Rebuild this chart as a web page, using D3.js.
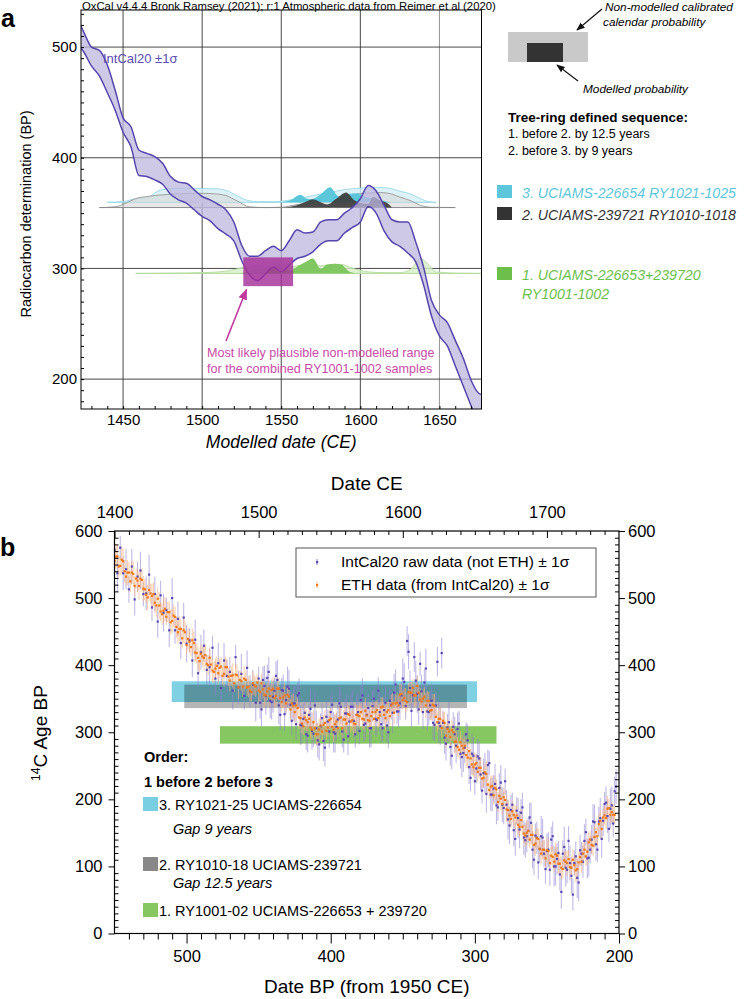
<!DOCTYPE html>
<html><head><meta charset="utf-8">
<script src="https://cdn.jsdelivr.net/npm/d3@7"></script>
<style>
body{margin:0;background:#fff}
text{font-family:"Liberation Sans",Arial,Helvetica,sans-serif}
</style></head><body>
<svg id="c" width="753" height="999"></svg>
<script>
// ================= DATA =================
// Panel a : IntCal20 band (CE year, upper BP, lower BP)
const intcalYears = [1423,1425,1430,1435,1440,1445,1450,1455,1460,1465,1470,1475,1480,1485,1490,1495,1500,1505,1510,1515,1520,1525,1530,1535,1540,1545,1550,1555,1560,1565,1570,1575,1580,1585,1590,1595,1600,1605,1610,1615,1620,1625,1630,1635,1640,1645,1650,1655,1660,1665,1670,1675,1677];
const intcalUpper = [520,514,500,497,484,461,436,428,407,404,401,395,383,378,377,371,365,362,358,353,342,321,311,311,316,320,316,325,335,332,333,342,344,344,350,355,363,375,370,357,344,342,342,324,301,271,258,251,235,219,199,187,186];
const intcalLower = [500,496,483,474,459,443,423,410,384,383,380,376,367,362,359,353,347,343,336,331,325,307,294,289,295,301,297,303,309,311,315,322,325,325,332,337,342,356,350,334,324,320,314,306,285,257,239,230,212,194,176,158,150];

// Panel a : probability distributions (CE year, relative probability)
const cyanBaseBP = 359.7, grayBaseBP = 355, greenBaseBP = 295.5;
const cyanNMYears = [1440,1450,1458,1465,1472,1480,1490,1500,1510,1515,1522,1528,1535,1545,1552,1560,1570,1580,1590,1600,1610,1618,1625,1632,1638,1643,1648];
const cyanNMDens  = [0,0.05,0.25,0.3,0.75,0.92,0.95,0.92,0.9,0.8,0.45,0.15,0.05,0.05,0.1,0.25,0.45,0.65,0.85,0.95,1.0,0.95,0.75,0.55,0.25,0.05,0];
const cyanMYears = [1549,1556,1562,1566,1569,1575,1581,1585,1587,1592,1598,1603,1606,1612,1619];
const cyanMDens  = [0,0.15,0.5,0.25,0.2,0.55,1.0,0.5,0.35,0.55,0.6,0.35,0.3,0.15,0];
const grayNMYears = [1435,1445,1452,1458,1466,1475,1485,1500,1510,1515,1522,1530,1540,1550,1555,1565,1575,1585,1595,1602,1612,1618,1625,1632,1638,1645,1660];
const grayNMDens  = [0,0.05,0.3,0.6,0.75,0.85,0.92,0.95,0.9,0.8,0.45,0.05,0,0.02,0.1,0.3,0.5,0.7,0.85,0.95,1.0,0.95,0.7,0.45,0.15,0.02,0];
const darkMYears = [1553,1560,1566,1570,1576,1579,1585,1591,1596,1600,1605,1608,1613,1617,1620];
const darkMDens  = [0,0.15,0.4,0.55,0.3,0.2,0.6,1.0,0.5,0.3,0.25,0.7,0.45,0.3,0];
const greenNMYears = [1458,1480,1500,1515,1522,1528,1535,1541,1549,1555,1562,1569,1575,1582,1588,1595,1605,1615,1625,1632,1638,1643,1648,1660,1677];
const greenNMDens  = [0,0.02,0.05,0.15,0.3,0.45,0.5,0.5,0.65,0.45,0.55,0.75,0.5,0.6,0.6,0.35,0.1,0.05,0.05,0.3,1.0,0.6,0.1,0.02,0];
const greenMYears = [1524,1530,1535,1541,1546,1549,1553,1556,1560,1566,1570,1575,1579,1584,1588,1592,1597];
const greenMDens  = [0,0.15,0.3,0.3,0.45,0.65,0.3,0.2,0.45,0.8,1.0,0.3,0.6,0.65,0.6,0.2,0];

// Panel a : most likely non-modelled range
const rangeYears = [1526,1557.5];
const rangeBP = [284,310];

// Panel a tick labels
const aYearTicks = [1450,1500,1550,1600,1650];
const aBPTicks = [200,300,400,500];

// Panel b : data [Date BP, 14C age, 1 sigma]
const intcalRaw = [[550,572,22],[548,537,28],[546,575,18],[544,537,25],[542,543,30],[540,513,20],[538,547,26],[536,498,24],[534,532,22],[532,541,28],
[530,506,18],[528,507,25],[526,535,30],[524,486,20],[522,506,26],[520,465,24],[518,504,22],[516,478,28],[514,482,18],[512,452,25],
[510,500,30],[508,452,20],[506,469,26],[504,433,24],[502,471,22],[500,432,28],[498,437,18],[496,407,25],[494,438,30],[492,388,20],
[490,419,26],[488,429,24],[486,393,22],[484,397,28],[482,426,18],[480,380,25],[478,403,30],[476,366,20],[474,407,26],[472,384,24],
[470,390,22],[468,362,28],[466,412,18],[464,367,25],[462,387,30],[460,354,20],[458,396,26],[456,361,24],[454,371,22],[452,344,28],
[450,380,18],[448,334,25],[446,369,30],[444,381,20],[442,347,26],[440,353,24],[438,384,22],[436,340,28],[434,363,18],[432,327,25],
[430,368,30],[428,341,20],[426,343,26],[424,312,24],[422,358,22],[420,310,28],[418,329,18],[416,295,25],[414,335,30],[412,298,20],
[410,306,26],[408,282,24],[406,321,22],[404,277,28],[402,316,18],[400,330,25],[398,300,30],[396,308,20],[394,343,26],[392,301,24],
[390,328,22],[388,294,28],[386,338,18],[384,317,25],[382,326,30],[380,302,20],[378,355,26],[376,313,24],[374,336,22],[372,306,28],
[370,350,18],[368,318,25],[366,330,30],[364,306,20],[362,344,26],[360,300,24],[358,341,22],[356,359,28],[354,331,18],[352,343,25],
[350,380,30],[348,339,20],[346,420,26],[344,332,24],[342,412,22],[340,357,28],[338,402,18],[336,330,25],[334,395,30],[332,330,20],
[330,347,26],[328,311,24],[326,405,22],[324,309,28],[322,314,18],[320,283,25],[318,315,30],[316,265,20],[314,297,26],[312,305,24],
[310,268,22],[308,269,28],[306,297,18],[304,248,25],[302,268,30],[300,227,20],[298,264,26],[296,237,24],[294,239,22],[292,208,28],
[290,254,18],[288,207,25],[286,223,30],[284,188,20],[282,225,26],[280,187,24],[278,192,22],[276,161,28],[274,192,18],[272,141,25],
[270,172,30],[268,180,20],[266,143,26],[264,145,24],[262,173,22],[260,125,28],[258,146,18],[256,106,25],[254,145,30],[252,119,20],
[250,123,26],[248,95,24],[246,145,22],[244,100,28],[242,120,18],[240,62,25],[238,129,30],[236,95,20],[234,105,26],[232,58,24],
[230,115,22],[228,76,28],[226,119,18],[224,138,25],[222,112,30],[220,125,20],[218,167,26],[216,133,24],[214,167,22],[212,141,28],
[210,193,18],[208,175,25],[206,186,30],[204,164,20],[202,219,26],
[449,344,24],[447,378,20],[445,354,28],[443,390,22],[441,345,26],[439,362,19],[437,378,30],[435,326,23],[433,362,24],[431,348,20],
[429,365,28],[427,317,22],[425,343,26],[423,355,19],[421,311,30],[419,320,23],[417,297,24],[415,326,20],[413,302,28],[411,340,22],
[409,288,26],[407,309,19],[405,287,30],[403,323,23],[401,301,24],[399,341,20],[397,298,28],[395,319,22],[393,338,26],[391,289,19],
[389,328,30],[387,316,23],[385,338,24],[383,297,20],[381,330,28],[379,348,22],[377,311,26],[375,326,19],[373,306,30],[371,339,23],
[369,320,24],[367,362,20],[365,312,28],[363,333,22],[361,310,26],[359,347,19],[357,329,30],[355,371,23],[353,331,24],[351,355,20],
[349,375,28],[347,436,22],[345,366,26],[343,355,19],[341,377,30],[339,334,23],[337,361,24],[335,374,20],[333,331,28],[331,340,22],
[329,314,26],[327,340,19],[325,314,30],[323,418,23],[321,292,24],[319,307,20],[317,278,28],[315,308,22],[313,280,26],[311,313,19],
[309,263,30],[307,277,23],[305,288,24],[303,232,20],[301,265,28],[299,246,22],[297,261,26],[295,213,19],[293,239,30],[291,251,23],
[289,207,24],[287,216,20],[285,191,28],[283,217,22],[281,192,26],[279,227,19],[277,170,30],[275,184,23],[273,154,24],[271,183,20],
[269,155,28],[267,188,22],[265,139,26],[263,153,19],[261,165,30],[259,110,23],[257,143,24],[255,126,20],[253,143,28],[251,96,22],
[249,125,26],[247,140,19],[245,100,30],[243,111,23],[241,88,24],[239,119,20],[237,98,28],[235,138,22],[233,86,26],[231,105,19],
[229,83,30],[227,124,23],[225,107,24],[223,151,20],[221,113,28],[219,140,22],[217,166,26],[215,125,19],[213,172,30],[211,168,23],
[209,195,24],[207,156,20],[205,191,28],[203,212,22]];

const ethData = [[549,562,18],[547,547,16],[545,557,20],[543,540,17],[541,538,19],[539,525,16],[537,536,18],[535,529,15],[533,518,20],[531,527,17],
[529,513,16],[527,501,19],[525,507,15],[523,506,18],[521,489,17],[519,489,20],[517,476,16],[515,484,18],[513,479,15],[511,464,19],
[509,474,17],[507,457,16],[505,454,18],[503,440,15],[501,449,17],[499,439,16],[497,427,14],[495,433,17],[493,418,15],[491,406,16],
[489,413,14],[487,415,17],[485,400,15],[483,401,13],[481,390,16],[479,399,14],[477,396,15],[475,384,13],[473,397,16],[471,383,14],
[469,384,15],[467,373,13],[465,385,16],[463,378,14],[461,368,15],[459,378,13],[457,368,16],[455,360,14],[453,370,15],[451,374,13],
[449,360,16],[447,364,14],[445,355,15],[443,365,13],[441,363,16],[439,351,14],[437,365,15],[435,351,13],[433,352,16],[431,343,14],
[429,353,15],[427,343,13],[425,330,16],[423,336,14],[421,321,15],[419,309,13],[417,318,16],[415,320,14],[413,304,15],[411,306,13],
[409,297,16],[407,310,14],[405,311,15],[403,302,13],[401,318,16],[399,308,14],[397,312,15],[395,306,13],[393,322,16],[391,319,14],
[389,313,15],[387,326,13],[385,318,16],[383,312,14],[381,325,15],[379,330,13],[377,319,16],[375,325,14],[373,317,15],[371,330,13],
[369,330,16],[367,321,14],[365,337,15],[363,326,13],[361,330,16],[359,324,14],[357,343,15],[355,343,13],[353,340,16],[351,357,14],
[349,351,15],[347,345,13],[345,359,16],[343,366,14],[341,355,15],[339,359,13],[337,346,16],[335,353,14],[333,347,15],[331,332,13],
[329,341,16],[327,323,14],[325,320,15],[323,306,13],[321,314,16],[319,305,14],[317,293,15],[315,300,13],[313,286,16],[311,274,14],
[309,280,15],[307,280,13],[305,262,16],[303,261,14],[301,248,15],[299,254,13],[297,247,16],[295,231,14],[293,240,15],[291,222,13],
[289,219,16],[287,206,14],[285,215,15],[283,205,13],[281,193,16],[279,199,14],[277,184,15],[275,171,13],[273,177,16],[271,176,14],
[269,159,15],[267,159,13],[265,146,16],[263,153,14],[261,147,15],[259,132,13],[257,142,16],[255,126,14],[253,125,15],[251,112,13],
[249,123,16],[247,116,14],[245,107,15],[243,116,13],[241,104,16],[239,96,14],[237,107,15],[235,111,13],[233,98,16],[231,102,14],
[229,96,15],[227,114,13],[225,119,16],[223,115,14],[221,136,15],[219,132,13],[217,144,16],[215,145,14],[213,168,15],[211,173,13],
[209,172,16],[207,187,14],[205,181,15],[203,177,13],
[550,555,15],[548,562,17],[546,548,14],[544,555,19],[542,532,13],[540,538,16],[538,538,18],[536,518,15],[534,526,17],[532,529,14],
[530,514,19],[528,505,13],[526,512,16],[524,503,18],[522,493,15],[520,499,17],[518,480,14],[516,481,19],[514,472,13],[512,479,16],
[510,466,18],[508,472,15],[506,449,17],[504,454,14],[502,452,19],[500,430,13],[498,435,16],[496,437,18],[494,419,15],[492,411,17],
[490,417,14],[488,411,19],[486,402,13],[484,411,16],[482,392,18],[480,395,15],[478,388,17],[476,398,14],[474,387,19],[472,397,13],
[470,377,16],[468,385,18],[466,386,15],[464,367,17],[462,376,14],[460,380,19],[458,367,13],[456,362,16],[454,373,18],[452,368,15],
[450,362,17],[448,373,14],[446,356,19],[444,361,13],[442,354,16],[440,365,18],[438,354,15],[436,365,17],[434,345,14],[432,355,19],
[430,356,13],[428,334,16],[426,339,18],[424,340,15],[422,322,17],[420,313,14],[418,322,19],[416,315,13],[414,307,16],[412,315,18],
[410,297,15],[408,304,17],[406,301,14],[404,314,19],[402,307,13],[400,320,16],[398,304,18],[396,316,15],[394,321,17],[392,306,14],
[390,319,19],[388,327,13],[386,316,16],[384,313,18],[382,326,15],[380,324,17],[378,320,14],[376,332,19],[374,318,13],[372,324,16],
[370,320,18],[368,333,15],[366,325,17],[364,338,14],[362,321,19],[360,333,13],[358,340,16],[356,329,18],[354,344,15],[352,356,17],
[350,348,14],[348,347,19],[346,360,13],[344,359,16],[342,355,18],[340,369,15],[338,349,17],[336,350,14],[334,340,19],[332,347,13],
[330,333,16],[328,339,18],[326,315,15],[324,320,17],[322,317,14],[320,295,19],[318,301,13],[316,303,16],[314,286,18],[312,278,15],
[310,285,17],[308,276,14],[306,266,19],[304,272,13],[302,252,16],[300,252,18],[298,241,15],[296,247,17],[294,232,14],[292,238,19],
[290,214,13],[288,220,16],[286,217,18],[284,196,15],[282,201,17],[280,203,14],[278,185,19],[276,176,13],[274,182,16],[272,173,18],
[270,162,15],[268,169,17],[266,149,14],[264,150,19],[262,140,13],[260,147,16],[258,134,18],[256,141,15],[254,119,17],[252,125,14],
[250,124,19],[248,105,13],[246,114,16],[244,118,18],[242,104,15],[240,98,17],[238,109,14],[236,105,19],[234,99,13],[232,110,16],
[230,94,18],[228,106,15],[226,107,17],[224,125,14],[222,122,19],[220,140,13],[218,131,16],[216,151,18],[214,163,15],[212,156,17],
[210,176,14],[208,186,19],[206,177,13],[204,177,16]];

// Panel b : sample bars  [BP start, BP end] and [14C low, 14C high]
const sampleBP = [[510.3,298.5],[501.6,305.5],[476.8,285]];
const sampleC14 = [[345,376],[336,371],[283,309]];

// Panel b tick labels
const bBPTicks = [500,400,300,200];
const bCETicks = [1400,1500,1600,1700];
const bAgeTicks = [0,100,200,300,400,500,600];

// ================= DRAW =================
const svg = d3.select("#c");
const defs = svg.append("defs");
function marker(id, color){
  defs.append("marker").attr("id",id).attr("viewBox","0 0 10 10").attr("refX",9).attr("refY",5)
    .attr("markerWidth",7).attr("markerHeight",7).attr("orient","auto")
    .append("path").attr("d","M0,1L10,5L0,9z").attr("fill",color);
}
marker("ahK","#111"); marker("ahM","#c2399e");

function styleAxis(g, fs){
  g.select(".domain").remove();
  g.selectAll("line").attr("stroke","#000").attr("stroke-width",1);
  g.selectAll("text").attr("font-size",fs).attr("fill","#000").attr("font-family",'"Liberation Sans",Arial,sans-serif');
}

// ---------- Panel a ----------
const A = {l:81, r:481.5, t:10, b:409};
const xA = d3.scaleLinear().domain([1423.4,1676.6]).range([A.l,A.r]);
const yA = d3.scaleLinear().domain([173,533.5]).range([A.b,A.t]);
const hA = d3.scaleLinear().domain([0,1]).range([0,15]);
defs.append("clipPath").attr("id","clipA").append("rect").attr("x",A.l).attr("y",A.t).attr("width",A.r-A.l).attr("height",A.b-A.t);

svg.append("text").attr("x",A.l+1).attr("y",9.6).attr("font-size",11.3).text("OxCal v4.4.4 Bronk Ramsey (2021); r:1 Atmospheric data from Reimer et al (2020)");
svg.append("text").attr("x",1).attr("y",27).attr("font-size",25).attr("font-weight","bold").text("a");

const gA = svg.append("g").attr("clip-path","url(#clipA)");
gA.selectAll("line.gx").data(aYearTicks).join("line")
  .attr("x1",d=>xA(d)).attr("x2",d=>xA(d)).attr("y1",A.t).attr("y2",A.b)
  .attr("stroke",d=>d===1650?"#888":"#333").attr("stroke-width",0.9);
gA.selectAll("line.gy").data(aBPTicks).join("line")
  .attr("y1",d=>yA(d)).attr("y2",d=>yA(d)).attr("x1",A.l).attr("x2",A.r)
  .attr("stroke","#333").attr("stroke-width",0.9);

function dist(years, dens, base, fill, fillOp, stroke, baseline){
  const pts = years.map((y,i)=>[y,dens[i]]);
  const area = d3.area().x(d=>xA(d[0])).y0(yA(base)).y1(d=>yA(base)-hA(d[1])).curve(d3.curveMonotoneX);
  gA.append("path").datum(pts).attr("d",area).attr("fill",fill).attr("fill-opacity",fillOp);
  if(stroke){
    const line = d3.line().x(d=>xA(d[0])).y(d=>yA(base)-hA(d[1])).curve(d3.curveMonotoneX);
    gA.append("path").datum(pts).attr("d",line).attr("fill","none").attr("stroke",stroke).attr("stroke-width",0.9);
  }
  if(baseline){
    gA.append("line").attr("x1",xA(years[0])).attr("x2",xA(years[years.length-1]))
      .attr("y1",yA(base)).attr("y2",yA(base)).attr("stroke",baseline).attr("stroke-width",1);
  }
}
dist(cyanNMYears,cyanNMDens,cyanBaseBP,"#d4eff5",0.8,"#98d9e6","#98d9e6");
dist(grayNMYears,grayNMDens,grayBaseBP,"#d5d5d5",0.6,"#999","#888");
dist(greenNMYears,greenNMDens,greenBaseBP,"#d6edc8",0.8,"#b2dc9c","#b2dc9c");
dist(cyanMYears,cyanMDens,cyanBaseBP,"#5cc6da",1,null,null);
dist(darkMYears,darkMDens,grayBaseBP,"#3d3d3d",0.92,null,null);
dist(greenMYears,greenMDens,greenBaseBP,"#80c762",1,null,null);

// IntCal band
const band = intcalYears.map((y,i)=>[y,intcalUpper[i],intcalLower[i]]);
gA.append("path").datum(band)
  .attr("d",d3.area().x(d=>xA(d[0])).y0(d=>yA(d[2])).y1(d=>yA(d[1])).curve(d3.curveMonotoneX))
  .attr("fill","#bfb7e0").attr("fill-opacity",0.75);
[1,2].forEach(k=>{
  gA.append("path").datum(band)
    .attr("d",d3.line().x(d=>xA(d[0])).y(d=>yA(d[k])).curve(d3.curveMonotoneX))
    .attr("fill","none").attr("stroke","#5546ad").attr("stroke-width",1.5);
});
// Magenta range
gA.append("rect").attr("x",xA(rangeYears[0])).attr("y",yA(rangeBP[1]))
  .attr("width",xA(rangeYears[1])-xA(rangeYears[0])).attr("height",yA(rangeBP[0])-yA(rangeBP[1]))
  .attr("fill","#a52f98").attr("fill-opacity",0.82);

svg.append("text").attr("x",103).attr("y",63).attr("font-size",13).attr("fill","#5a4cb0").text("IntCal20 ±1σ");

// frame
svg.append("rect").attr("x",A.l).attr("y",A.t).attr("width",A.r-A.l).attr("height",A.b-A.t)
  .attr("fill","none").attr("stroke","#000").attr("stroke-width",1);
// axes a
const minorBP = d3.range(180,531,10);
styleAxis(svg.append("g").attr("transform",`translate(${A.l},0)`).call(d3.axisRight(yA).tickValues(minorBP).tickSize(3).tickFormat("")),12);
styleAxis(svg.append("g").attr("transform",`translate(${A.l},0)`).call(d3.axisLeft(yA).tickValues(aBPTicks).tickSize(0).tickPadding(4)),15);
const minorYr = d3.range(1430,1671,10);
styleAxis(svg.append("g").attr("transform",`translate(0,${A.b})`).call(d3.axisTop(xA).tickValues(minorYr).tickSize(3).tickFormat("")),12);
styleAxis(svg.append("g").attr("transform",`translate(0,${A.b})`).call(d3.axisBottom(xA).tickValues(aYearTicks).tickSize(0).tickPadding(5).tickFormat(d3.format("d"))),15);

svg.append("text").attr("transform","translate(31,214) rotate(-90)").attr("text-anchor","middle").attr("font-size",14.5).text("Radiocarbon determination (BP)");
svg.append("text").attr("x",(A.l+A.r)/2).attr("y",448).attr("text-anchor","middle").attr("font-size",17.5).attr("font-style","italic").text("Modelled date (CE)");

// magenta annotation
svg.append("line").attr("x1",226).attr("y1",341).attr("x2",xA(1528)).attr("y2",yA(281))
  .attr("stroke","#c2399e").attr("stroke-width",1.6).attr("marker-end","url(#ahM)");
svg.append("text").attr("x",207).attr("y",357).attr("font-size",12.6).attr("fill","#c84aa8").text("Most likely plausible non-modelled range");
svg.append("text").attr("x",207).attr("y",373).attr("font-size",12.6).attr("fill","#c84aa8").text("for the combined RY1001-1002 samples");

// right legend a
svg.append("rect").attr("x",508).attr("y",32).attr("width",80).attr("height",30).attr("fill","#c9c9c9");
svg.append("rect").attr("x",527).attr("y",43).attr("width",36).attr("height",19).attr("fill","#333");
svg.append("text").attr("x",605).attr("y",11).attr("font-size",11.8).attr("font-style","italic").text("Non-modelled calibrated");
svg.append("text").attr("x",603).attr("y",26).attr("font-size",11.8).attr("font-style","italic").text("calendar probability");
svg.append("line").attr("x1",602).attr("y1",9).attr("x2",577).attr("y2",30).attr("stroke","#111").attr("stroke-width",1.2).attr("marker-end","url(#ahK)");
svg.append("text").attr("x",583).attr("y",93).attr("font-size",11.8).attr("font-style","italic").text("Modelled probability");
svg.append("line").attr("x1",578).attr("y1",81).attr("x2",557).attr("y2",65).attr("stroke","#111").attr("stroke-width",1.2).attr("marker-end","url(#ahK)");
svg.append("text").attr("x",508).attr("y",122).attr("font-size",13.5).attr("font-weight","bold").text("Tree-ring defined sequence:");
svg.append("text").attr("x",508).attr("y",138).attr("font-size",12.5).text("1. before 2. by 12.5 years");
svg.append("text").attr("x",508).attr("y",155).attr("font-size",12.5).text("2. before 3. by 9 years");
const legA = [
  {c:"#5cc6da", t:"#5cc6da", y:185, lines:["3. UCIAMS-226654 RY1021-1025"]},
  {c:"#333333", t:"#333333", y:207, lines:["2. UCIAMS-239721 RY1010-1018"]},
  {c:"#6cbf4a", t:"#6cbf4a", y:267, lines:["1. UCIAMS-226653+239720","RY1001-1002"]}];
legA.forEach(d=>{
  svg.append("rect").attr("x",497).attr("y",d.y).attr("width",15).attr("height",13).attr("fill",d.c);
  d.lines.forEach((t,i)=>svg.append("text").attr("x",522).attr("y",d.y+12.5+i*19.5).attr("font-size",14.2)
    .attr("font-style","italic").attr("fill",d.t).text(t));
});

// ---------- Panel b ----------
const B = {l:114.5, r:619, t:531, b:933.5};
const xB = d3.scaleLinear().domain([550,200]).range([B.l,B.r]);
const xCE = d3.scaleLinear().domain([1400,1750]).range([B.l,B.r]);
const yB = d3.scaleLinear().domain([0,600]).range([B.b,B.t]);
defs.append("clipPath").attr("id","clipB").append("rect").attr("x",B.l).attr("y",B.t).attr("width",B.r-B.l).attr("height",B.b-B.t);
svg.append("text").attr("x",0).attr("y",556).attr("font-size",25).attr("font-weight","bold").text("b");

const gB = svg.append("g").attr("clip-path","url(#clipB)");
const barColors = ["#7fd0e3","#b5b5b5","#86c761"];
const barBlend = ["normal","multiply","normal"];
sampleBP.forEach((s,i)=>{
  gB.append("rect").attr("x",xB(s[0])).attr("width",xB(s[1])-xB(s[0]))
    .attr("y",yB(sampleC14[i][1])).attr("height",yB(sampleC14[i][0])-yB(sampleC14[i][1]))
    .attr("fill",barColors[i]).style("mix-blend-mode",barBlend[i]);
});
function errBars(data, color, op){
  gB.append("g").selectAll("line").data(data).join("line")
    .attr("x1",d=>xB(d[0])).attr("x2",d=>xB(d[0]))
    .attr("y1",d=>yB(d[1]-d[2])).attr("y2",d=>yB(d[1]+d[2]))
    .attr("stroke",color).attr("stroke-opacity",op).attr("stroke-width",1.1);
}
function pts(data, color){
  gB.append("g").selectAll("rect").data(data).join("rect")
    .attr("x",d=>xB(d[0])-1.1).attr("y",d=>yB(d[1])-1.1).attr("width",2.2).attr("height",2.2).attr("fill",color);
}
errBars(intcalRaw,"#8d7fd0",0.55);
errBars(ethData,"#f9b27c",0.6);
pts(intcalRaw,"#5a48b0");
pts(ethData,"#f07a18");

// frame b
svg.append("rect").attr("x",B.l).attr("y",B.t).attr("width",B.r-B.l).attr("height",B.b-B.t)
  .attr("fill","none").attr("stroke","#000").attr("stroke-width",1.2);
const minorAge = d3.range(10,600,10).filter(v=>v%100!==0);
styleAxis(svg.append("g").attr("transform",`translate(${B.l},0)`).call(d3.axisRight(yB).tickValues(minorAge).tickSize(4).tickFormat("")),12);
styleAxis(svg.append("g").attr("transform",`translate(${B.l},0)`).call(d3.axisLeft(yB).tickValues(bAgeTicks).tickSize(6).tickPadding(6)),16.5);
styleAxis(svg.append("g").attr("transform",`translate(${B.r},0)`).call(d3.axisLeft(yB).tickValues(minorAge).tickSize(4).tickFormat("")),12);
styleAxis(svg.append("g").attr("transform",`translate(${B.r},0)`).call(d3.axisRight(yB).tickValues(bAgeTicks).tickSize(6).tickPadding(3)),16.5);
const minorCE = d3.range(1410,1750,10).filter(v=>v%100!==0);
styleAxis(svg.append("g").attr("transform",`translate(0,${B.t})`).call(d3.axisBottom(xCE).tickValues(minorCE).tickSize(4).tickFormat("")),12);
styleAxis(svg.append("g").attr("transform",`translate(0,${B.t})`).call(d3.axisBottom(xCE).tickValues(bCETicks).tickSize(7).tickFormat("")),12);
styleAxis(svg.append("g").attr("transform",`translate(0,${B.t})`).call(d3.axisTop(xCE).tickValues(bCETicks).tickSize(0).tickPadding(13).tickFormat(d3.format("d"))),16.5);
const minorBP2 = d3.range(210,550,10).filter(v=>v%100!==0);
styleAxis(svg.append("g").attr("transform",`translate(0,${B.b})`).call(d3.axisBottom(xB).tickValues(minorBP2).tickSize(6).tickFormat("")),12);
styleAxis(svg.append("g").attr("transform",`translate(0,${B.b})`).call(d3.axisBottom(xB).tickValues(bBPTicks).tickSize(10).tickPadding(7)),16.5);

svg.append("text").attr("x",(B.l+B.r)/2).attr("y",490).attr("text-anchor","middle").attr("font-size",19).text("Date CE");
svg.append("text").attr("x",(B.l+B.r)/2).attr("y",993).attr("text-anchor","middle").attr("font-size",19).text("Date BP (from 1950 CE)");
const yl = svg.append("text").attr("transform","translate(47,733) rotate(-90)").attr("text-anchor","middle").attr("font-size",19);
yl.append("tspan").attr("font-size",12).attr("dy",-7).text("14");
yl.append("tspan").attr("dy",7).text("C Age BP");

// legend box b
svg.append("rect").attr("x",296).attr("y",548).attr("width",300).attr("height",49).attr("fill","#fff").attr("stroke","#555").attr("stroke-width",1);
const legB = [{t:"IntCal20 raw data (not ETH) ± 1σ", c:"#5a48b0", e:"#8d7fd0", y:567},
              {t:"ETH data (from IntCal20) ± 1σ", c:"#f07a18", e:"#f9b27c", y:590}];
legB.forEach(d=>{
  svg.append("line").attr("x1",317).attr("x2",317).attr("y1",d.y-8).attr("y2",d.y-2).attr("stroke",d.e).attr("stroke-width",1);
  svg.append("rect").attr("x",316).attr("y",d.y-6).attr("width",2.2).attr("height",2.2).attr("fill",d.c);
  svg.append("text").attr("x",341).attr("y",d.y).attr("font-size",15.5).text(d.t);
});

// order legend b
svg.append("text").attr("x",144).attr("y",762).attr("font-size",14.5).attr("font-weight","bold").text("Order:");
svg.append("text").attr("x",144).attr("y",787).attr("font-size",14.5).attr("font-weight","bold").text("1 before 2 before 3");
const ordItems = [{c:"#79cfe2",y:797,t:"3. RY1021-25 UCIAMS-226654"},{c:"#888888",y:857,t:"2. RY1010-18 UCIAMS-239721"},{c:"#86c761",y:903,t:"1. RY1001-02 UCIAMS-226653 + 239720"}];
ordItems.forEach(d=>{
  svg.append("rect").attr("x",143).attr("y",d.y).attr("width",15).attr("height",14).attr("fill",d.c);
  svg.append("text").attr("x",159).attr("y",d.y+13).attr("font-size",14.5).text(d.t);
});
svg.append("text").attr("x",173).attr("y",834).attr("font-size",14.5).attr("font-style","italic").text("Gap 9 years");
svg.append("text").attr("x",173).attr("y",888).attr("font-size",14.5).attr("font-style","italic").text("Gap 12.5 years");
</script>
</body></html>
